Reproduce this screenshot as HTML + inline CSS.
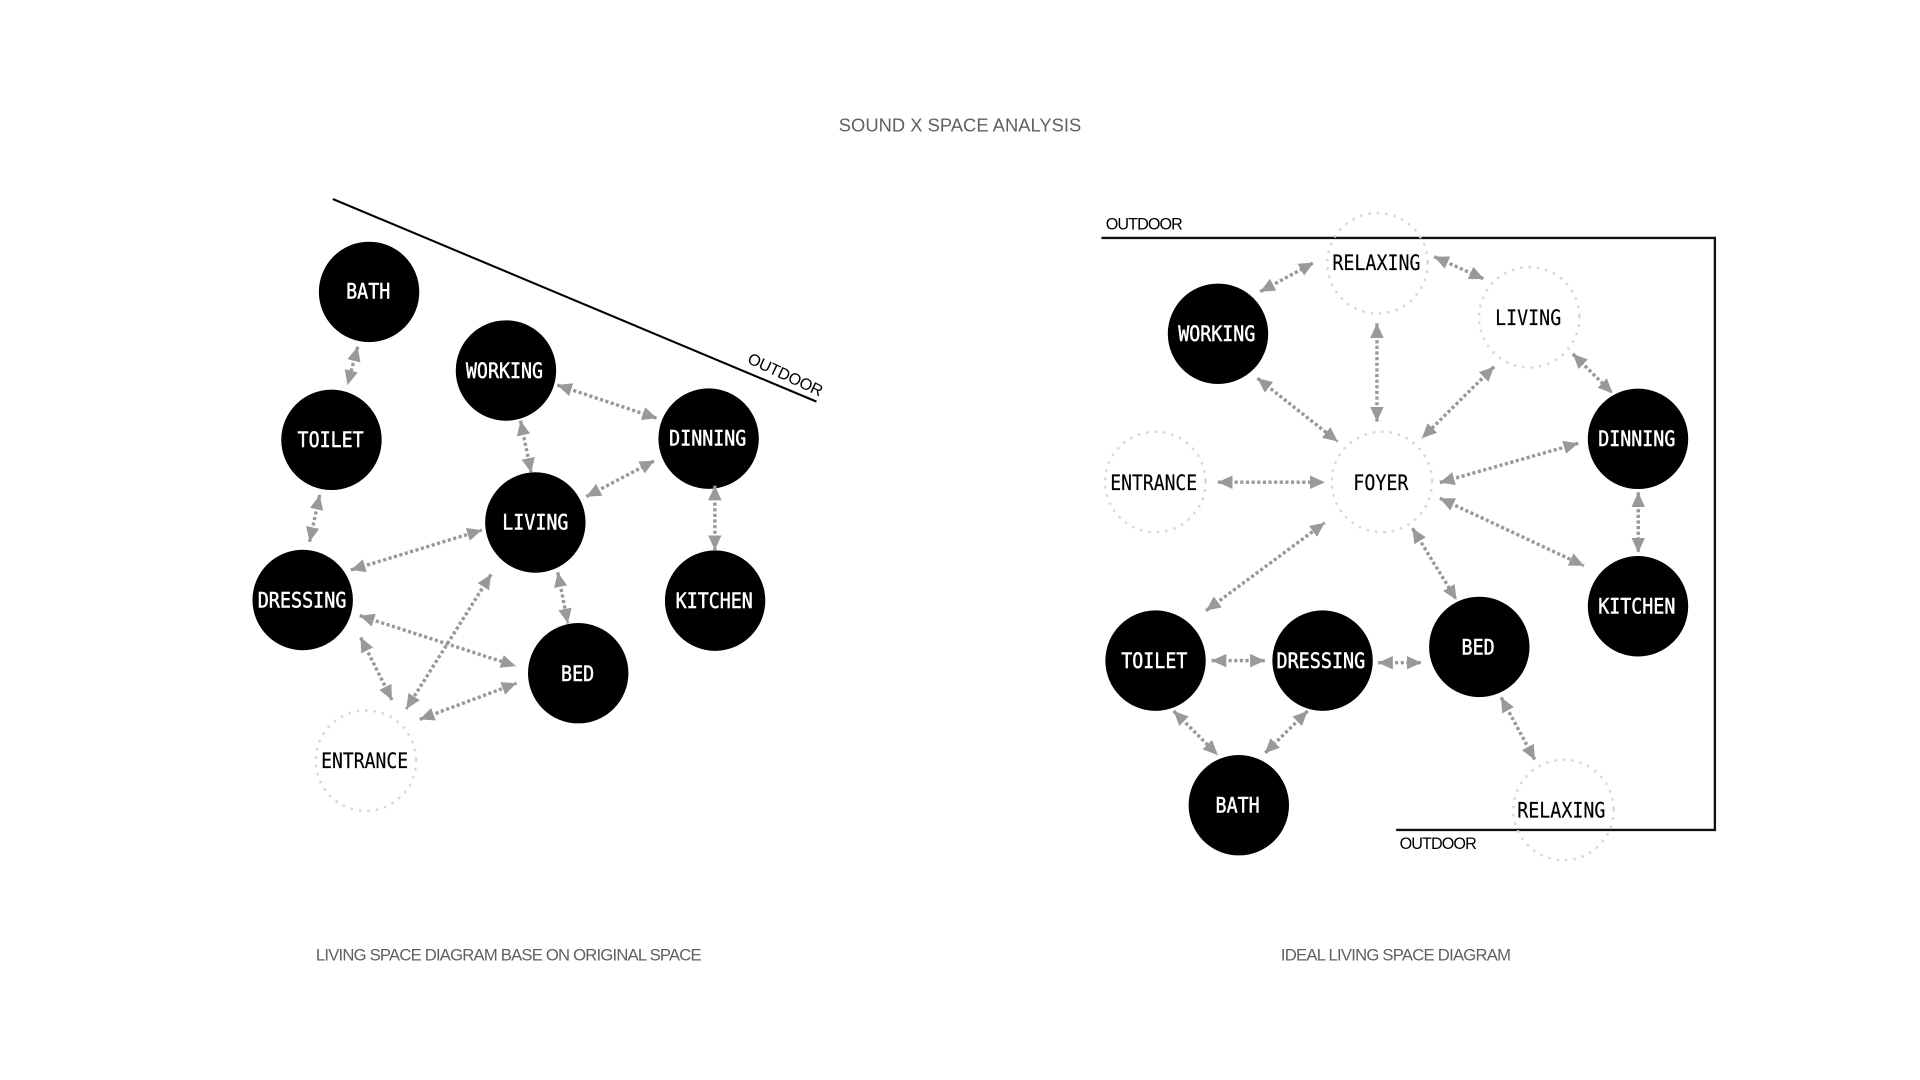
<!DOCTYPE html>
<html lang="en">
<head>
<meta charset="utf-8">
<title>Sound X Space Analysis</title>
<style>
html,body{margin:0;padding:0;background:#fff;width:1920px;height:1080px;overflow:hidden}
svg{display:block}
.l{font-family:"DejaVu Sans Mono","Liberation Mono",monospace;font-size:17.5px;text-anchor:middle}
.w{fill:#fff;stroke:#fff;stroke-width:.4}
.b{fill:#000;stroke:#000;stroke-width:.15}
.s{font-family:"Liberation Sans",sans-serif}
.c{fill:#5f5f5f;font-size:13.6px;text-anchor:middle}
.o{fill:#000;font-size:13.2px;text-anchor:middle}
.a line{stroke:#999;stroke-width:2.8;stroke-dasharray:2.6 2;marker-start:url(#h);marker-end:url(#h)}
.d circle{fill:none;stroke:#d9d9d9;stroke-width:2.3;stroke-linecap:round;stroke-dasharray:.1 6.8}
</style>
</head>
<body>
<svg width="1920" height="1080" viewBox="0 0 1568 882" xmlns="http://www.w3.org/2000/svg">
<defs>
<marker id="h" viewBox="0 0 12 11" refX="12" refY="5.5" markerWidth="12" markerHeight="11" markerUnits="userSpaceOnUse" orient="auto-start-reverse"><path d="M0,0L12,5.5L0,11Z" fill="#999"/></marker>
</defs>
<rect width="1568" height="882" fill="#fff"/>

<text class="s c" x="784" y="107.5" style="font-size:15px" textLength="198">SOUND X SPACE ANALYSIS</text>
<text class="s c" x="415.5" y="784.5" textLength="315">LIVING SPACE DIAGRAM BASE ON ORIGINAL SPACE</text>
<text class="s c" x="1140" y="784.5" textLength="188">IDEAL LIVING SPACE DIAGRAM</text>

<line x1="271.8" y1="162.5" x2="666.8" y2="328" stroke="#000" stroke-width="1.7"/>
<path d="M899.5 194.3H1400.5V677.8H1140.2" fill="none" stroke="#111" stroke-width="1.9"/>
<text class="s o" transform="translate(639.5 310) rotate(25)" textLength="66">OUTDOOR</text>
<text class="s o" x="934.5" y="187.5" textLength="63">OUTDOOR</text>
<text class="s o" x="1174.5" y="693.5" textLength="63">OUTDOOR</text>

<g class="d">
<circle cx="298.8" cy="621.2" r="41"/>
<circle cx="1125" cy="215" r="41"/>
<circle cx="1248.9" cy="259.1" r="41"/>
<circle cx="943.5" cy="393.6" r="41"/>
<circle cx="1128.5" cy="393.6" r="41"/>
<circle cx="1276.9" cy="661.5" r="41"/>
</g>

<g fill="#000">
<circle cx="301.4" cy="238.4" r="41"/>
<circle cx="270.7" cy="359.2" r="41"/>
<circle cx="413.2" cy="302.6" r="41"/>
<circle cx="578.7" cy="358.2" r="41"/>
<circle cx="437.2" cy="426.7" r="41"/>
<circle cx="247.2" cy="490" r="41"/>
<circle cx="584" cy="490.5" r="41"/>
<circle cx="472.2" cy="549.8" r="41"/>
<circle cx="994.7" cy="272.6" r="41"/>
<circle cx="1337.7" cy="358.4" r="41"/>
<circle cx="1337.7" cy="495.1" r="41"/>
<circle cx="1208.1" cy="528.3" r="41"/>
<circle cx="943.7" cy="539.5" r="41"/>
<circle cx="1080.1" cy="539.5" r="41"/>
<circle cx="1011.7" cy="657.6" r="41"/>
</g>

<g class="a">
<line x1="292.1" y1="283.1" x2="283.8" y2="314.4"/>
<line x1="261.1" y1="404.2" x2="252.8" y2="442.4"/>
<line x1="425.1" y1="343.5" x2="433.8" y2="386"/>
<line x1="455.1" y1="314.4" x2="536.5" y2="341.6"/>
<line x1="478.8" y1="405.6" x2="534.5" y2="376.2"/>
<line x1="583.8" y1="396.6" x2="583.8" y2="449.2"/>
<line x1="286.5" y1="465.5" x2="393.5" y2="432.9"/>
<line x1="455.5" y1="467.4" x2="463.8" y2="509.1"/>
<line x1="293.8" y1="502.8" x2="421.1" y2="543.9"/>
<line x1="294.5" y1="520.5" x2="320.1" y2="571.7"/>
<line x1="401.1" y1="469" x2="331.8" y2="579"/>
<line x1="342.8" y1="587.5" x2="421.8" y2="558"/>
<line x1="1029.2" y1="238.2" x2="1072.9" y2="214.5"/>
<line x1="1171.2" y1="209.6" x2="1211.9" y2="227.8"/>
<line x1="1124.5" y1="264" x2="1124.5" y2="344.3"/>
<line x1="1026.9" y1="308.9" x2="1092.5" y2="360.6"/>
<line x1="1220.2" y1="299.4" x2="1161.2" y2="357.9"/>
<line x1="1284.5" y1="289" x2="1316.9" y2="321.2"/>
<line x1="1175.9" y1="394.1" x2="1288.9" y2="362"/>
<line x1="1337.9" y1="402" x2="1337.9" y2="451.3"/>
<line x1="994.5" y1="393.8" x2="1081.9" y2="393.8"/>
<line x1="1175.9" y1="406.9" x2="1293.5" y2="462"/>
<line x1="984.9" y1="498.7" x2="1081.9" y2="426.8"/>
<line x1="1153.5" y1="431.4" x2="1189.5" y2="490"/>
<line x1="989.5" y1="539.5" x2="1032.9" y2="539.5"/>
<line x1="1125.5" y1="541.2" x2="1160.9" y2="541.2"/>
<line x1="958.5" y1="580.6" x2="994.5" y2="616.6"/>
<line x1="1067.9" y1="580.6" x2="1032.9" y2="615.2"/>
<line x1="1225.9" y1="569.5" x2="1253.5" y2="620.6"/>
</g>

<g class="l w">
<text x="300.7" y="238.2" dy=".33em" textLength="36" lengthAdjust="spacingAndGlyphs">BATH</text>
<text x="270" y="359.2" dy=".33em" textLength="54" lengthAdjust="spacingAndGlyphs">TOILET</text>
<text x="412" y="302.9" dy=".33em" textLength="63" lengthAdjust="spacingAndGlyphs">WORKING</text>
<text x="578" y="358.2" dy=".33em" textLength="63" lengthAdjust="spacingAndGlyphs">DINNING</text>
<text x="437.2" y="426.7" dy=".33em" textLength="54" lengthAdjust="spacingAndGlyphs">LIVING</text>
<text x="246.7" y="490.2" dy=".33em" textLength="72.5" lengthAdjust="spacingAndGlyphs">DRESSING</text>
<text x="583.3" y="490.8" dy=".33em" textLength="63" lengthAdjust="spacingAndGlyphs">KITCHEN</text>
<text x="471.7" y="550.2" dy=".33em" textLength="27" lengthAdjust="spacingAndGlyphs">BED</text>
<text x="993.7" y="272.9" dy=".33em" textLength="63" lengthAdjust="spacingAndGlyphs">WORKING</text>
<text x="1336.7" y="358.4" dy=".33em" textLength="63" lengthAdjust="spacingAndGlyphs">DINNING</text>
<text x="1336.7" y="495.4" dy=".33em" textLength="63" lengthAdjust="spacingAndGlyphs">KITCHEN</text>
<text x="1207.1" y="528.6" dy=".33em" textLength="27" lengthAdjust="spacingAndGlyphs">BED</text>
<text x="942.7" y="539.7" dy=".33em" textLength="54" lengthAdjust="spacingAndGlyphs">TOILET</text>
<text x="1078.7" y="539.7" dy=".33em" textLength="72.5" lengthAdjust="spacingAndGlyphs">DRESSING</text>
<text x="1010.7" y="657.6" dy=".33em" textLength="36" lengthAdjust="spacingAndGlyphs">BATH</text>
</g>
<g class="l b">
<text x="297.8" y="621.4" dy=".33em" textLength="71" lengthAdjust="spacingAndGlyphs">ENTRANCE</text>
<text x="1124.1" y="214.7" dy=".33em" textLength="72" lengthAdjust="spacingAndGlyphs">RELAXING</text>
<text x="1248" y="259.6" dy=".33em" textLength="54" lengthAdjust="spacingAndGlyphs">LIVING</text>
<text x="942.2" y="394.2" dy=".33em" textLength="71" lengthAdjust="spacingAndGlyphs">ENTRANCE</text>
<text x="1127.7" y="394.2" dy=".33em" textLength="45" lengthAdjust="spacingAndGlyphs">FOYER</text>
<text x="1275.1" y="661.9" dy=".33em" textLength="72" lengthAdjust="spacingAndGlyphs">RELAXING</text>
</g>
</svg>
</body>
</html>
